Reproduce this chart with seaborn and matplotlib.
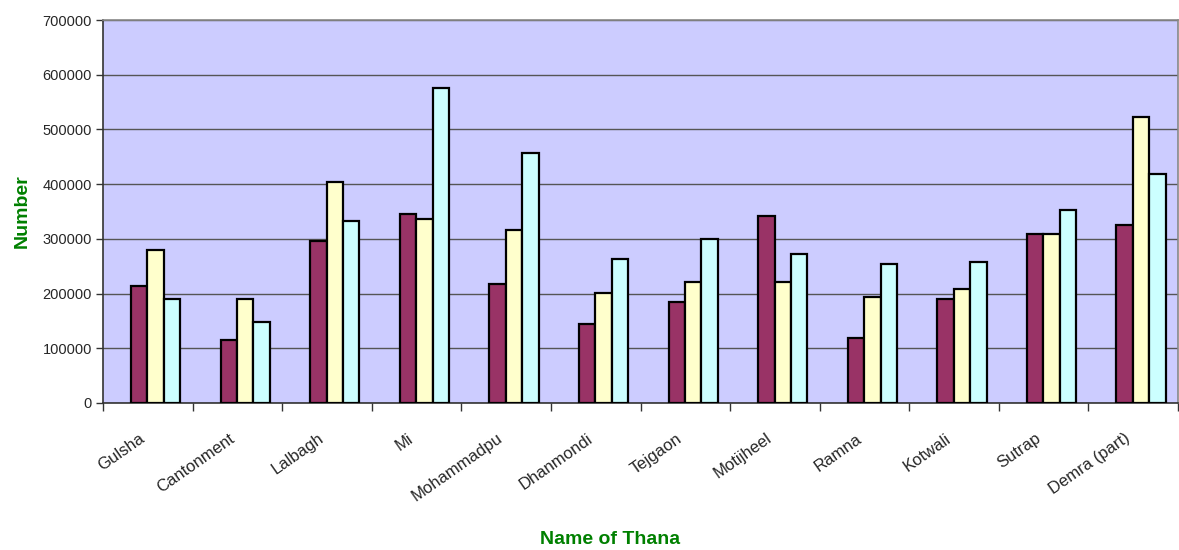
import numpy as np
import pandas as pd
import matplotlib
matplotlib.use('Agg')
import matplotlib.pyplot as plt
import seaborn as sns

# ---- data ----
thanas = ['Gulsha', 'Cantonment', 'Lalbagh', 'Mi', 'Mohammadpu', 'Dhanmondi',
          'Tejgaon', 'Motijheel', 'Ramna', 'Kotwali', 'Sutrap', 'Demra (part)']
series_names = ['Series 1', 'Series 2', 'Series 3']
series_1 = [213000, 115000, 296000, 346000, 218000, 144000,
            185000, 342000, 119000, 190000, 309000, 325000]
series_2 = [280000, 190000, 404000, 337000, 316000, 201000,
            221000, 221000, 194000, 208000, 309000, 523000]
series_3 = [190000, 148000, 333000, 576000, 457000, 263000,
            300000, 272000, 254000, 258000, 353000, 419000]
bar_colors = ['#993366', '#FFFFCC', '#CCFFFF']

df = pd.DataFrame({
    'Thana': thanas * 3,
    'Series': np.repeat(series_names, len(thanas)),
    'Number': series_1 + series_2 + series_3,
})

sns.set_style('white')
plt.rcParams['font.family'] = ['Liberation Sans', 'DejaVu Sans']

fig = plt.figure(figsize=(11.79, 5.5), dpi=100)
ax = fig.add_axes([103 / 1179, 1 - 403 / 550, 1075 / 1179, 383 / 550])

sns.barplot(data=df, x='Thana', y='Number', hue='Series', order=thanas,
            hue_order=series_names, palette=bar_colors, saturation=1, width=0.55,
            edgecolor='black', linewidth=1.6, legend=False, ax=ax, zorder=3)

ax.set_facecolor('#CCCCFF')
ax.set_ylim(0, 700000)
ax.set_yticks(np.arange(0, 700001, 100000))
ax.set_yticklabels([f'{v:d}' for v in range(0, 700001, 100000)], fontsize=10.5)
ax.yaxis.grid(True, color='#555555', linewidth=1.0, zorder=1)
ax.tick_params(axis='y', direction='out', length=5, width=1, color='#333333', pad=3, left=True)

# category boundaries as ticks, labels at the category centres
off = 0.088
ax.set_xlim(-0.5 - off, len(thanas) - 0.5 - off)
ax.set_xticks(np.arange(len(thanas) + 1) - 0.5 - off)
ax.set_xticklabels([])
ax.tick_params(axis='x', which='major', direction='out', length=6, width=1,
               color='#333333', bottom=True)
ax.set_xticks(np.arange(len(thanas)) - off - 0.1, minor=True)
ax.set_xticklabels(thanas, minor=True, rotation=35, ha='right', va='top',
                   rotation_mode='anchor', fontsize=12)
ax.tick_params(axis='x', which='minor', length=0, pad=20)

for side in ['left', 'bottom']:
    ax.spines[side].set_color('#333333')
    ax.spines[side].set_linewidth(1.2)
for side in ['top', 'right']:
    ax.spines[side].set_color('#888888')
    ax.spines[side].set_linewidth(1.2)

ax.set_xlabel('')
ax.set_ylabel('')
fig.text(22 / 1179, 1 - 211 / 550, 'Number', rotation=90, ha='center', va='center',
         fontsize=14, fontweight='bold', color='#008000')
fig.text(610 / 1179, 1 - 540 / 550, 'Name of Thana', ha='center', va='center',
         fontsize=14, fontweight='bold', color='#008000')

fig.savefig('out.png', dpi=100)
